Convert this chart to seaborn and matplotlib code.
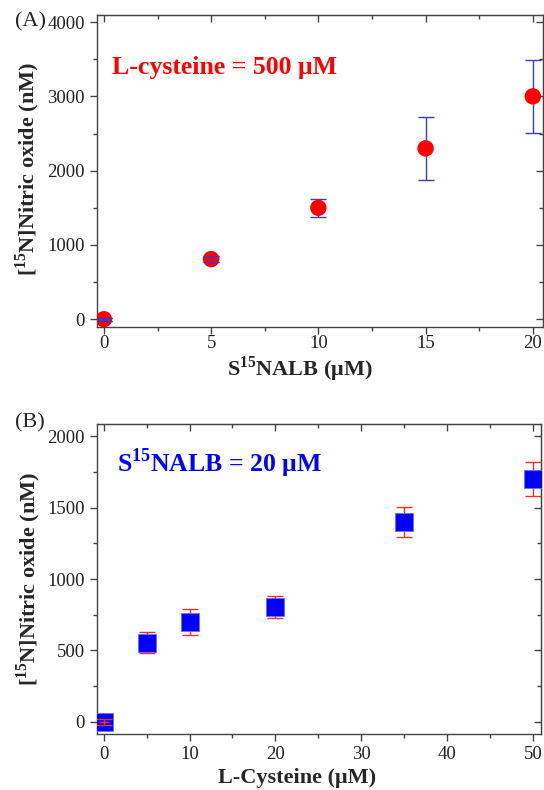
import matplotlib
matplotlib.use("Agg")
import matplotlib.pyplot as plt
import seaborn as sns
import pandas as pd
from matplotlib.ticker import MultipleLocator

# Panel A: NO release vs S15NALB concentration (L-cysteine fixed at 500 uM)
salb_conc = [0, 5, 10, 15, 20]
no_a = [0, 810, 1500, 2300, 3000]
err_a = [20, 40, 120, 425, 495]

# Panel B: NO release vs L-cysteine concentration (S15NALB fixed at 20 uM)
cys_conc = [0, 5, 10, 20, 35, 50]
no_b = [0, 555, 700, 805, 1400, 1700]
err_b = [20, 72, 92, 78, 105, 120]

sns.set_style("ticks")
plt.rcParams["font.family"] = ["Liberation Serif", "DejaVu Serif"]
plt.rcParams["mathtext.fontset"] = "custom"
plt.rcParams["mathtext.rm"] = "Liberation Serif"
plt.rcParams["mathtext.bf"] = "Liberation Serif:bold"

fig = plt.figure(figsize=(5.44, 7.90), dpi=100)
ax_a = fig.add_axes([0.178, 0.586, 0.820, 0.395])
ax_b = fig.add_axes([0.178, 0.071, 0.816, 0.392])

spine_col = "#444444"
tick_fs = 13.5
label_fs = 16
note_fs = 18.5


def style_axes(ax, xmaj, xmin, ymaj, ymin, xpad):
    for s in ax.spines.values():
        s.set_visible(True)
        s.set_color(spine_col)
        s.set_linewidth(1.0)
    ax.xaxis.set_major_locator(MultipleLocator(xmaj))
    ax.xaxis.set_minor_locator(MultipleLocator(xmin))
    ax.yaxis.set_major_locator(MultipleLocator(ymaj))
    ax.yaxis.set_minor_locator(MultipleLocator(ymin))
    ax.tick_params(which="both", direction="out", color=spine_col,
                   labelsize=tick_fs, labelcolor="#222222", width=1.0)
    ax.tick_params(which="major", length=5)
    ax.tick_params(which="minor", length=3)
    ax.tick_params(axis="x", pad=xpad)
    # mirrored inward ticks on top and right
    top = ax.secondary_xaxis("top")
    right = ax.secondary_yaxis("right")
    for sec, loc_maj, loc_min in ((top, xmaj, xmin), (right, ymaj, ymin)):
        axis = sec.xaxis if sec is top else sec.yaxis
        axis.set_major_locator(MultipleLocator(loc_maj))
        axis.set_minor_locator(MultipleLocator(loc_min))
        sec.tick_params(which="both", direction="in", color=spine_col,
                        labelleft=False, labelright=False,
                        labeltop=False, labelbottom=False, width=1.0)
        sec.tick_params(which="major", length=5)
        sec.tick_params(which="minor", length=3)
        for s in sec.spines.values():
            s.set_color(spine_col)


def draw_points(ax, df, marker, size, face, edge, bar_col, cross_w, small_n):
    # error bars sit behind the markers; the smallest ones are redrawn on top
    ax.errorbar(df["conc"], df["no"], yerr=df["err"], fmt="none",
                ecolor=bar_col, elinewidth=1.0, capsize=6, capthick=1.0, zorder=3)
    sns.scatterplot(data=df, x="conc", y="no", ax=ax, marker=marker, s=size,
                    color=face, edgecolor=edge, linewidth=0.6, zorder=4)
    top = df.iloc[:small_n]
    ax.errorbar(top["conc"], top["no"], yerr=top["err"], fmt="none",
                ecolor=bar_col, elinewidth=1.0, capsize=6, capthick=1.0, zorder=5)
    ax.errorbar(df["conc"][:1], df["no"][:1], xerr=cross_w, fmt="none",
                ecolor=bar_col, elinewidth=1.0, zorder=5)


# ---- Panel A ----
df_a = pd.DataFrame({"conc": salb_conc, "no": no_a, "err": err_a})
draw_points(ax_a, df_a, "o", 140, "#ff0000", "none", "#3a3ac8", 0.25, 2)
ax_a.set_xlim(-0.33, 20.47)
ax_a.set_ylim(-105, 4095)
style_axes(ax_a, 5, 2.5, 1000, 500, 0.5)
ax_a.set_xlabel(r"S$^{\mathbf{15}}$NALB (μM)", fontsize=label_fs, fontweight="bold")
ax_a.set_ylabel(r"[$^{\mathbf{15}}$N]Nitric oxide (nM)", fontsize=label_fs, fontweight="bold")
ax_a.xaxis.set_label_coords(0.455, -0.088)
ax_a.yaxis.set_label_coords(-0.122, 0.505)
ax_a.text(0.034, 0.833, "L-cysteine = 500 μM", transform=ax_a.transAxes,
          color="#ff0000", fontsize=note_fs, fontweight="bold", va="center")
fig.text(15 / 544, 1 - 22 / 790, "(A)", fontsize=16, va="center", ha="left")

# ---- Panel B ----
df_b = pd.DataFrame({"conc": cys_conc, "no": no_b, "err": err_b})
draw_points(ax_b, df_b, "s", 150, "#0000ff", "#6a6aff", "#e83030", 0.6, 1)
ax_b.set_xlim(-0.8, 50.9)
ax_b.set_ylim(-85, 2085)
style_axes(ax_b, 10, 5, 500, 250, 4.0)
ax_b.set_xlabel("L-Cysteine (μM)", fontsize=label_fs, fontweight="bold")
ax_b.set_ylabel(r"[$^{\mathbf{15}}$N]Nitric oxide (nM)", fontsize=label_fs, fontweight="bold")
ax_b.xaxis.set_label_coords(0.45, -0.11)
ax_b.yaxis.set_label_coords(-0.122, 0.5)
ax_b.text(0.045, 0.874, r"S$^{\mathbf{15}}$NALB = 20 μM", transform=ax_b.transAxes,
          color="#0000ff", fontsize=note_fs, fontweight="bold", va="center")
fig.text(15 / 544, 1 - 423 / 790, "(B)", fontsize=16, va="center", ha="left")

fig.savefig("out.png", dpi=100, facecolor="white")
